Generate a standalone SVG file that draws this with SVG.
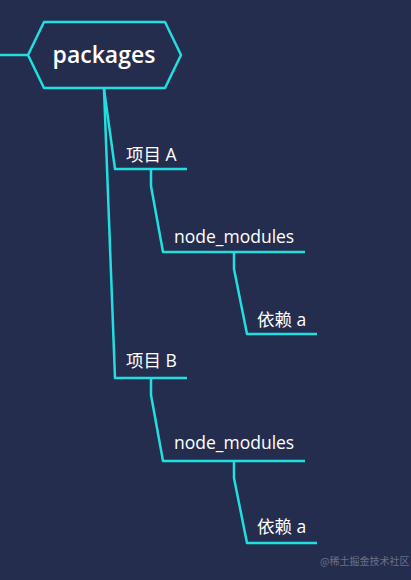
<svg xmlns="http://www.w3.org/2000/svg" width="411" height="580" viewBox="0 0 411 580">
<style>
.ln{fill:none;stroke:#1fe0df;stroke-width:2.5;stroke-linejoin:round;stroke-linecap:butt}
.t{fill:#ffffff;font-family:"Open Sans","Noto Sans CJK SC",sans-serif;font-size:17.5px}
.root{fill:#ffffff;font-family:"Open Sans","Noto Sans CJK SC",sans-serif;font-size:23px;font-weight:600}
</style>
<rect width="411" height="580" fill="#252d4f"/>
<g id="connectors">
<path class="ln" d="M0,55 H28"/>
<path class="ln" d="M104,89 L115,169 H187"/>
<path class="ln" d="M104,89 L115,378 H187"/>
<path class="ln" d="M151,169 V186 L163,252 H305"/>
<path class="ln" d="M234,252 V269 L247,334 H317"/>
<path class="ln" d="M151,378 V395 L163,461 H305"/>
<path class="ln" d="M234,461 V478 L247,543 H317"/>
</g>
<g id="packages">
<polygon class="ln" points="28,55 44,22 165,22 181,55 165,88 44,88" stroke-width="3"/>
<text class="root" x="104" y="63" text-anchor="middle">packages</text>
</g>
<g id="projA"><text class="t" x="126" y="161">项目 A</text></g>
<g id="nmA"><text class="t" x="174" y="243">node_modules</text></g>
<g id="depA"><text class="t" x="257" y="326">依赖 a</text></g>
<g id="projB"><text class="t" x="126" y="367">项目 B</text></g>
<g id="nmB"><text class="t" x="174" y="449">node_modules</text></g>
<g id="depB"><text class="t" x="257" y="533">依赖 a</text></g>
<text x="320" y="565" fill="#6b7089" font-family="'Noto Sans CJK SC',sans-serif" font-size="10">@稀土掘金技术社区</text>
</svg>
